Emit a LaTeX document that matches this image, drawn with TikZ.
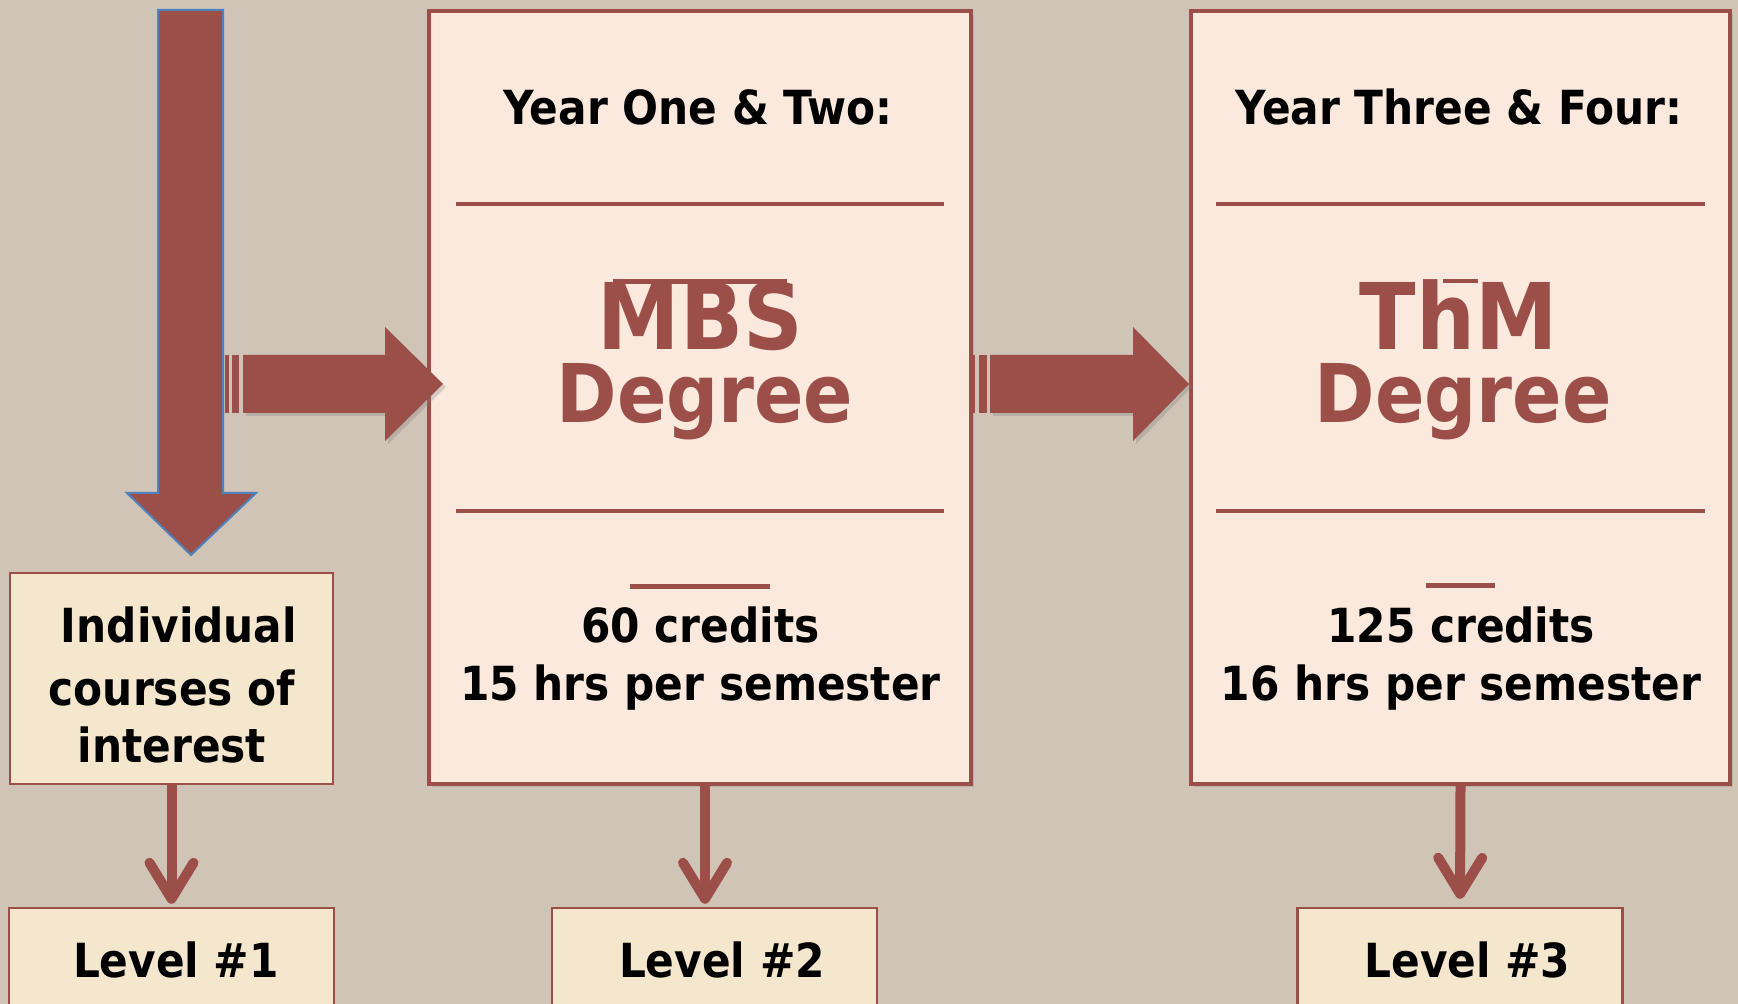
\documentclass[tikz,border=0pt]{standalone}
\usepackage{fontspec}
\setmainfont{DejaVu Sans Condensed}
\usetikzlibrary{arrows.meta,shadows}

\definecolor{brick}{HTML}{9C4E48}
\definecolor{stone}{HTML}{CFC4B6}
\definecolor{blush}{HTML}{FBE9DD}
\definecolor{cream}{HTML}{F5E7CE}
\definecolor{edgeblue}{HTML}{4F81BD}

\tikzset{
  degbox/.style={draw=brick, line width=2pt, fill=blush, inner sep=0pt,
    drop shadow={opacity=0.25, shadow xshift=1.5pt, shadow yshift=-1.5pt}},
  lvlbox/.style={draw=brick, line width=1.2pt, fill=cream, inner sep=0pt},
  blacktxt/.style={font=\fontsize{23.5}{28}\selectfont\bfseries, inner sep=0pt},
  bigtxt/.style={text=brick, font=\fontsize{40.5}{44}\selectfont\bfseries, inner sep=0pt},
  divline/.style={brick, line width=2pt},
  blockarrow/.style={fill=brick,
    drop shadow={opacity=0.3, shadow xshift=1.5pt, shadow yshift=-1.5pt}},
  thinarrow/.style={brick, line width=5pt, -{Straight Barb[length=18pt,width=22pt,round]}}
}

\begin{document}
\begin{tikzpicture}[x=0.5pt, y=-0.5pt]
    \fill[stone] (0,0) rectangle (1738,1004);
    \useasboundingbox (0,0) rectangle (1738,1004);

    % big arrow down to the single courses
    \filldraw[fill=brick, draw=edgeblue, line width=1pt]
        (158,10) -- (223,10) -- (223,493) -- (256,493) -- (191,555) -- (127,493) -- (158,493) -- cycle;

    % boxes
    \node[degbox, minimum width=271pt, minimum height=386.5pt] (mbsbox) at (700,397.5) {};
    \node[degbox, minimum width=269.5pt, minimum height=386.5pt] (thmbox) at (1460.5,397.5) {};
    \node[lvlbox, minimum width=161.5pt, minimum height=105.5pt] (indiv) at (171.5,678.5) {};
    \node[lvlbox, minimum width=162.5pt, minimum height=52pt] (lvlone) at (171.5,960) {};
    \node[lvlbox, minimum width=162.5pt, minimum height=52pt] (lvltwo) at (714.5,960) {};
    \node[lvlbox, minimum width=162.5pt, minimum height=52pt] (lvlthree) at (1460,960) {};

    % block arrows
    \begin{scope}[every path/.style={fill=brick}]
        \fill (225,355) rectangle (229,413);
        \fill (232,355) rectangle (239,413);
        \fill (972,355) rectangle (975,413);
        \fill (979,355) rectangle (987,413);
    \end{scope}
    \path[blockarrow] (243,355) -- (385,355) -- (385,327) -- (443,384) -- (385,441) -- (385,413) -- (243,413) -- cycle;
    \path[blockarrow] (990,355) -- (1133,355) -- (1133,327) -- (1189,384) -- (1133,441) -- (1133,413) -- (990,413) -- cycle;

    % rules inside the degree boxes
    \draw[divline] (456,204) -- (944,204);
    \draw[divline] (456,511) -- (944,511);
    \draw[divline] (1216,204) -- (1705,204);
    \draw[divline] (1216,511) -- (1705,511);
    \draw[brick, line width=2.5pt] (630,587) -- (770,587);
    \draw[brick, line width=2.5pt] (1426,586) -- (1495,586);

    % texts
    \node[blacktxt, anchor=base] (yronetwo) at (698,125) {Year One \& Two:};
    \node[blacktxt, anchor=base] (yrthreefour) at (1459,125) {Year Three \& Four:};
    \node[bigtxt, font=\fontsize{46}{50}\selectfont\bfseries, anchor=base] (mbs) at (700.5,350) {MBS};
    \node[bigtxt, anchor=base] (mbsdeg) at (705,423) {Degree};
    \node[bigtxt, font=\fontsize{46}{50}\selectfont\bfseries, anchor=base] (thm) at (1458.5,350) {ThM};
    \node[bigtxt, anchor=base] (thmdeg) at (1463,423) {Degree};
    \draw[brick, line width=2.5pt] (613,282) -- (787,282);
    \draw[brick, line width=2pt] (1443,281) -- (1478,281);

    \node[blacktxt, anchor=base] (mbscred) at (700.5,642) {60 credits};
    \node[blacktxt, anchor=base] (mbshrs) at (700.5,700) {15 hrs per semester};
    \node[blacktxt, anchor=base] (thmcred) at (1461,642) {125 credits};
    \node[blacktxt, anchor=base] (thmhrs) at (1461,700) {16 hrs per semester};

    \node[blacktxt, anchor=base] (indone) at (179,642) {Individual};
    \node[blacktxt, anchor=base] (indtwo) at (172,705) {courses of};
    \node[blacktxt, anchor=base] (indthree) at (172,762) {interest};

    \node[blacktxt, anchor=base] (lvlonetxt) at (176,977) {Level \#1};
    \node[blacktxt, anchor=base] (lvltwotxt) at (722,977) {Level \#2};
    \node[blacktxt, anchor=base] (lvlthreetxt) at (1467.5,977) {Level \#3};

    % arrows down to the levels
    \draw[thinarrow, shorten >=1.5pt] (indiv.south) -- (lvlone.north);
    \draw[thinarrow, shorten >=1.5pt] ([xshift=2.5pt]mbsbox.south) -- ([xshift=2.5pt]mbsbox.south |- lvltwo.north);
    \draw[thinarrow, shorten >=4pt] (thmbox.south) -- (lvlthree.north);
\end{tikzpicture}
\end{document}
